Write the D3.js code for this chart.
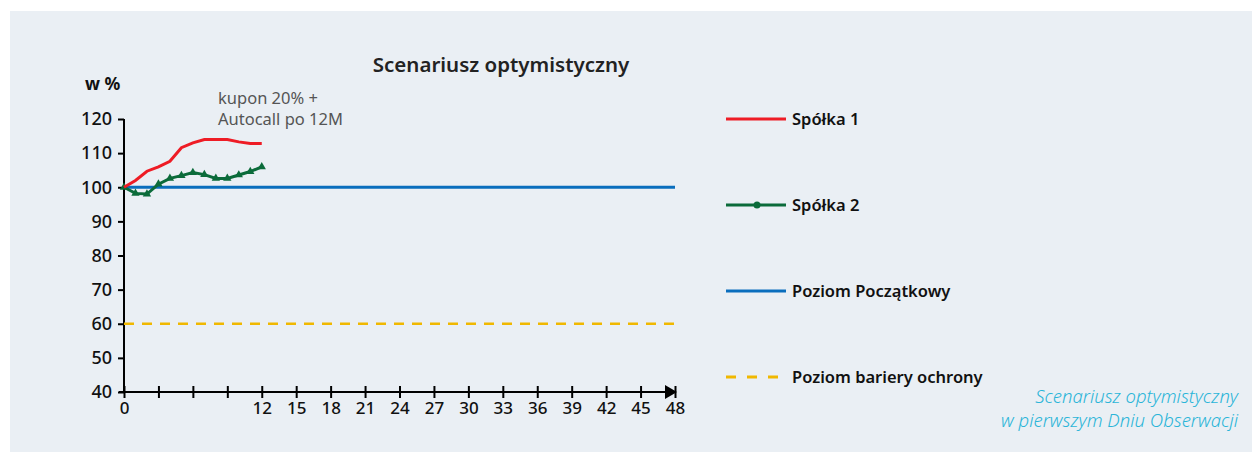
<!DOCTYPE html>
<html>
<head>
<meta charset="utf-8">
<script src="https://cdn.jsdelivr.net/npm/d3@7"></script>
<style>
  body { margin: 0; background: #fff; }
  svg { display: block; font-family: 'Noto Sans', sans-serif; }
</style>
</head>
<body>
<script>
// months 0..12
const months = [0, 1, 2, 3, 4, 5, 6, 7, 8, 9, 10, 11, 12];
const spolka1 = [100, 102, 104.7, 106, 107.6, 111.6, 113, 114, 114, 114, 113.3, 112.8, 112.8];
const spolka2 = [100, 98.2, 98, 100.9, 102.6, 103.4, 104.3, 103.7, 102.6, 102.6, 103.6, 104.6, 106];
const poziomPoczatkowy = 100;
const poziomBariery = 60;
const xTicks = [0, 3, 6, 9, 12, 15, 18, 21, 24, 27, 30, 33, 36, 39, 42, 45, 48];
const xLabels = [0, 12, 15, 18, 21, 24, 27, 30, 33, 36, 39, 42, 45, 48];
const yTicks = [40, 50, 60, 70, 80, 90, 100, 110, 120];
const legendItems = ['Spółka 1', 'Spółka 2', 'Poziom Początkowy', 'Poziom bariery ochrony'];
const legendColors = ['#ee1c25', '#0b6b3a', '#0a6ebd', '#f0b800'];

const width = 1253, height = 452;
const margin = { top: 119, right: 578, bottom: 60, left: 124 };

const x = d3.scaleLinear().domain([0, 48]).range([margin.left, width - margin.right]);
const y = d3.scaleLinear().domain([40, 120]).range([392, 119]);

const svg = d3.select('body').append('svg')
  .attr('width', width)
  .attr('height', height);

// background panel
svg.append('rect')
  .attr('x', 10).attr('y', 11)
  .attr('width', width - 11).attr('height', height - 11)
  .attr('fill', '#eaeff4');

// title
svg.append('text')
  .attr('x', 501).attr('y', 72)
  .attr('text-anchor', 'middle')
  .attr('font-size', '20.5px')
  .attr('font-weight', 600)
  .attr('fill', '#222')
  .text('Scenariusz optymistyczny');

svg.append('text')
  .attr('x', 85).attr('y', 90)
  .attr('font-size', '17.5px')
  .attr('font-weight', 700)
  .attr('fill', '#111')
  .text('w %');

// Y axis
const yAxis = svg.append('g')
  .attr('transform', `translate(${x(0)},0)`)
  .call(d3.axisLeft(y).tickValues(yTicks).tickSize(6).tickPadding(6));
yAxis.select('.domain').attr('stroke', '#000').attr('stroke-width', 2)
  .attr('d', `M0,${y(120)}V${y(40)}`);
yAxis.selectAll('.tick line').attr('stroke', '#000').attr('stroke-width', 2);
yAxis.selectAll('.tick text')
  .attr('font-family', "'Noto Sans', sans-serif")
  .attr('font-size', '18px').attr('font-weight', 500).attr('fill', '#111');

// X axis
const xAxis = svg.append('g')
  .attr('transform', `translate(0,${y(40)})`)
  .call(d3.axisBottom(x).tickValues(xTicks).tickSize(0).tickPadding(10)
    .tickFormat(d => xLabels.includes(d) ? d : ''));
xAxis.select('.domain').attr('stroke', '#000').attr('stroke-width', 2)
  .attr('d', `M${x(0) - 5},0H${x(48) - 4}`);
xAxis.selectAll('.tick line')
  .attr('y1', -6).attr('y2', 6)
  .attr('stroke', '#000').attr('stroke-width', 2);
xAxis.selectAll('.tick text')
  .attr('font-family', "'Noto Sans', sans-serif")
  .attr('font-size', '17px').attr('font-weight', 500).attr('fill', '#111');
// arrow head
xAxis.append('path')
  .attr('d', `M${x(48) - 10},-7L${x(48) + 2},0L${x(48) - 10},7Z`)
  .attr('fill', '#000');

// barrier and initial level
svg.append('line')
  .attr('x1', x(0)).attr('x2', x(48))
  .attr('y1', y(poziomBariery)).attr('y2', y(poziomBariery))
  .attr('stroke', legendColors[3]).attr('stroke-width', 2.5)
  .attr('stroke-dasharray', '10,8');

svg.append('line')
  .attr('x1', x(0)).attr('x2', x(48))
  .attr('y1', y(poziomPoczatkowy)).attr('y2', y(poziomPoczatkowy))
  .attr('stroke', legendColors[2]).attr('stroke-width', 3);

const line = d3.line().x((d, i) => x(months[i])).y(d => y(d));

svg.append('path')
  .datum(spolka2)
  .attr('d', line)
  .attr('fill', 'none')
  .attr('stroke', legendColors[1]).attr('stroke-width', 3);

svg.selectAll('.m2')
  .data(spolka2)
  .enter().append('path')
  .attr('class', 'm2')
  .attr('transform', (d, i) => `translate(${x(months[i])},${y(d)})`)
  .attr('d', d3.symbol().type(d3.symbolTriangle).size(30))
  .attr('fill', legendColors[1]);

svg.append('path')
  .datum(spolka1)
  .attr('d', line)
  .attr('fill', 'none')
  .attr('stroke', legendColors[0]).attr('stroke-width', 3);

// annotation
const note = svg.append('text')
  .attr('font-size', '16.5px')
  .attr('fill', '#555');
note.append('tspan').attr('x', 218).attr('y', 104).text('kupon 20%  +');
note.append('tspan').attr('x', 218).attr('y', 125).text('Autocall po 12M');

// legend
const legend = svg.selectAll('.legend')
  .data(legendItems)
  .enter().append('g')
  .attr('class', 'legend')
  .attr('transform', (d, i) => `translate(726,${119 + i * 86})`);

legend.append('line')
  .attr('x1', 0).attr('x2', 60)
  .attr('stroke', (d, i) => legendColors[i])
  .attr('stroke-width', 3)
  .attr('stroke-dasharray', (d, i) => i === 3 ? '10,11' : null);

legend.filter((d, i) => i === 1).append('circle')
  .attr('cx', 31).attr('r', 3.5)
  .attr('fill', legendColors[1]);

legend.append('text')
  .attr('x', 66).attr('y', 6)
  .attr('font-size', '16.5px')
  .attr('font-weight', 600)
  .attr('fill', '#111')
  .text(d => d);

// caption
const cap = svg.append('text')
  .attr('text-anchor', 'end')
  .attr('font-size', '18.5px')
  .attr('font-style', 'italic')
  .attr('font-weight', 300)
  .attr('fill', '#2bb5d8');
cap.append('tspan').attr('x', 1238).attr('y', 403).text('Scenariusz optymistyczny');
cap.append('tspan').attr('x', 1238).attr('y', 427).text('w pierwszym Dniu Obserwacji');
</script>
</body>
</html>
